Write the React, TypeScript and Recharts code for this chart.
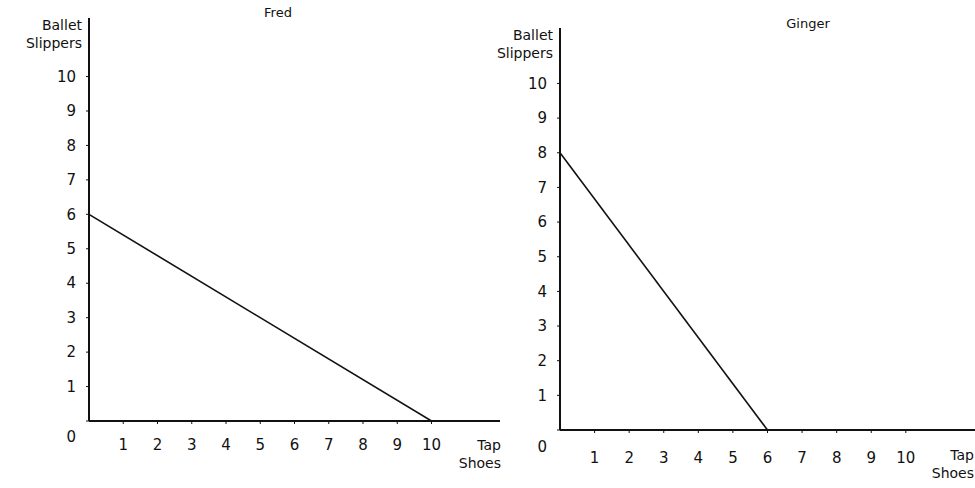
import { LineChart, Line, XAxis, YAxis } from 'recharts'

// ─── Data ────────────────────────────────────────────────────────────────────

const fredTap = [0, 10]
const fredBallet = [6, 0]
const gingerTap = [0, 6]
const gingerBallet = [8, 0]
const ticks = [1, 2, 3, 4, 5, 6, 7, 8, 9, 10]
const yTicks = [0, 1, 2, 3, 4, 5, 6, 7, 8, 9, 10]

const fredData = fredTap.map((t, i) => ({ tap: t, ballet: fredBallet[i] }))
const gingerData = gingerTap.map((t, i) => ({ tap: t, ballet: gingerBallet[i] }))

const FONT = '"DejaVu Sans", Verdana, sans-serif'
const INK = '#111'
const TICK_SIZE = 15

// ─── Ticks ───────────────────────────────────────────────────────────────────

const makeYTick = (zeroDy: number) => (props: any) => {
  const { x, y, payload } = props
  const isZero = payload.value === 0
  return (
    <text
      x={x}
      y={isZero ? y + zeroDy : y}
      dy="0.35em"
      textAnchor="end"
      fill={INK}
      fontSize={TICK_SIZE}
      fontFamily={FONT}
    >
      {payload.value}
    </text>
  )
}

const textStyle = (left: number, top: number, align: 'left' | 'right' | 'center', size = 14) => ({
  position: 'absolute' as const,
  left,
  top,
  width: 90,
  textAlign: align,
  fontFamily: FONT,
  fontSize: size,
  lineHeight: '18px',
  color: INK,
})

// ─── Panel ───────────────────────────────────────────────────────────────────

interface PanelProps {
  data: { tap: number; ballet: number }[]
  left: number
  top: number
  plotHeight: number
  width: number
  yMax: number
  yAxisWidth: number
  rightMargin: number
  xTickMargin: number
  zeroDy: number
}

function Panel({ data, left, top, plotHeight, width, yMax, yAxisWidth, rightMargin, xTickMargin, zeroDy }: PanelProps) {
  return (
    <div style={{ position: 'absolute', left, top: 0 }}>
      <LineChart
        width={width}
        height={488}
        data={data}
        margin={{ top, right: rightMargin, left: 27, bottom: 0 }}
      >
        <XAxis
          dataKey="tap"
          type="number"
          domain={[0, 12]}
          ticks={ticks}
          interval={0}
          height={488 - top - plotHeight}
          tickSize={3}
          tickMargin={xTickMargin}
          axisLine={{ stroke: INK, strokeWidth: 2 }}
          tickLine={{ stroke: INK }}
          tick={{ fill: INK, fontSize: TICK_SIZE, fontFamily: FONT }}
        />
        <YAxis
          type="number"
          domain={[0, yMax]}
          ticks={yTicks}
          interval={0}
          allowDataOverflow
          width={yAxisWidth}
          tickSize={3}
          tickMargin={10}
          axisLine={{ stroke: INK, strokeWidth: 2 }}
          tickLine={{ stroke: INK }}
          tick={makeYTick(zeroDy)}
        />
        <Line
          type="linear"
          dataKey="ballet"
          stroke={INK}
          strokeWidth={1.6}
          dot={false}
          isAnimationActive={false}
        />
      </LineChart>
    </div>
  )
}

// ─── App ─────────────────────────────────────────────────────────────────────

export default function App() {
  return (
    <div style={{ position: 'absolute', left: 0, top: 0, width: 975, height: 488, background: '#fff', overflow: 'hidden' }}>
      <Panel
        data={fredData}
        left={0}
        top={18}
        plotHeight={403}
        width={505}
        yMax={11.7}
        yAxisWidth={62}
        rightMargin={5}
        xTickMargin={15}
        zeroDy={16}
      />
      <Panel
        data={gingerData}
        left={470}
        top={28}
        plotHeight={402}
        width={505}
        yMax={11.6}
        yAxisWidth={63}
        rightMargin={0}
        xTickMargin={19}
        zeroDy={17}
      />

      <div style={textStyle(233, 4, 'center', 13)}>Fred</div>
      <div style={textStyle(763, 15, 'center', 13)}>Ginger</div>

      <div style={textStyle(-8, 16, 'right')}>Ballet<br />Slippers</div>
      <div style={textStyle(463, 26, 'right')}>Ballet<br />Slippers</div>

      <div style={textStyle(411, 436, 'right')}>Tap<br />Shoes</div>
      <div style={textStyle(884, 446, 'right')}>Tap<br />Shoes</div>
    </div>
  )
}
